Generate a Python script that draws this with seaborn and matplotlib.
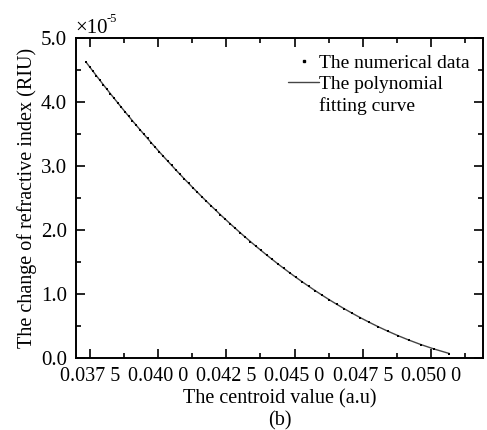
import matplotlib
matplotlib.use("Agg")
import matplotlib.pyplot as plt
from matplotlib.lines import Line2D
from matplotlib.ticker import MultipleLocator, FixedLocator, FixedFormatter
import seaborn as sns
import pandas as pd

# centroid value (a.u) of the numerical data
centroid = [
    0.037359, 0.037483, 0.037608, 0.037734, 0.037860, 0.037988, 0.038117, 0.038247,
    0.038378, 0.038510, 0.038643, 0.038777, 0.038913, 0.039049, 0.039187, 0.039327,
    0.039467, 0.039609, 0.039752, 0.039897, 0.040043, 0.040191, 0.040341, 0.040492,
    0.040644, 0.040799, 0.040955, 0.041113, 0.041273, 0.041436, 0.041600, 0.041766,
    0.041935, 0.042106, 0.042279, 0.042456, 0.042634, 0.042816, 0.043001, 0.043188,
    0.043379, 0.043574, 0.043772, 0.043974, 0.044180, 0.044390, 0.044605, 0.044826,
    0.045051, 0.045282, 0.045520, 0.045764, 0.046015, 0.046274, 0.046543, 0.046821,
    0.047111, 0.047413, 0.047729, 0.048061, 0.048413, 0.048789, 0.049192, 0.049632,
    0.050120, 0.050676,
]
# change of refractive index, in units of 1e-5 RIU
delta_n = [
    4.62, 4.55, 4.48, 4.41, 4.34, 4.27, 4.20, 4.13,
    4.06, 3.99, 3.92, 3.85, 3.78, 3.71, 3.64, 3.57,
    3.50, 3.43, 3.36, 3.29, 3.22, 3.15, 3.08, 3.01,
    2.94, 2.87, 2.80, 2.73, 2.66, 2.59, 2.52, 2.45,
    2.38, 2.31, 2.24, 2.17, 2.10, 2.03, 1.96, 1.89,
    1.82, 1.75, 1.68, 1.61, 1.54, 1.47, 1.40, 1.33,
    1.26, 1.19, 1.12, 1.05, 0.98, 0.91, 0.84, 0.77,
    0.70, 0.63, 0.56, 0.49, 0.42, 0.35, 0.28, 0.21,
    0.14, 0.07,
]
x_ticks = [0.0375, 0.0400, 0.0425, 0.0450, 0.0475, 0.0500]
x_tick_labels = ["0.037 5", "0.040 0", "0.042 5", "0.045 0", "0.047 5", "0.050 0"]
y_ticks = [0.0, 1.0, 2.0, 3.0, 4.0, 5.0]
y_tick_labels = ["0.0", "1.0", "2.0", "3.0", "4.0", "5.0"]

sns.set_theme(style="white")
plt.rcParams["font.family"] = ["Liberation Serif", "DejaVu Serif"]
plt.rcParams["mathtext.fontset"] = "stix"

df = pd.DataFrame({"x": centroid, "y": delta_n})

fig = plt.figure(figsize=(4.87, 4.30), dpi=100)
ax = fig.add_axes([76 / 487, 72 / 430, 407 / 487, 320 / 430])

sns.lineplot(data=df, x="x", y="y", ax=ax, color="#454545", linewidth=1.0,
             legend=False, estimator=None, sort=False)
sns.scatterplot(data=df, x="x", y="y", ax=ax, color="black", marker="s", s=3.5,
                linewidth=0, legend=False, zorder=3)

ax.set_xlim(0.036985, 0.05191)
ax.set_ylim(0.0, 5.0)

ax.xaxis.set_major_locator(FixedLocator(x_ticks))
ax.xaxis.set_major_formatter(FixedFormatter(x_tick_labels))
ax.xaxis.set_minor_locator(MultipleLocator(0.00125))
ax.yaxis.set_major_locator(FixedLocator(y_ticks))
ax.yaxis.set_major_formatter(FixedFormatter(y_tick_labels))
ax.yaxis.set_minor_locator(MultipleLocator(0.5))

ax.tick_params(which="both", direction="in", top=True, right=True,
               bottom=True, left=True, colors="black", width=1.2)
ax.tick_params(axis="x", which="major", length=6.5, pad=6.5, labelsize=14.5)
ax.tick_params(axis="y", which="major", length=6.5, pad=6.5, labelsize=15)
ax.tick_params(which="minor", length=3.5)
for s in ax.spines.values():
    s.set_color("black")
    s.set_linewidth(1.4)

ax.set_xlabel("The centroid value (a.u)\n(b)", fontsize=14.5, labelpad=2,
              linespacing=1.25, color="black")
ax.set_ylabel("The change of refractive index (RIU)", fontsize=14.5,
              labelpad=3, color="black")

fig.text(75 / 487, 1 - 33 / 430, "×10", fontsize=15, ha="left",
         va="baseline", color="black")
fig.text(107 / 487, 1 - 22 / 430, "-5", fontsize=9, ha="left",
         va="baseline", color="black")

handles = [
    Line2D([], [], linestyle="none", marker="s", markersize=1.8,
           color="black"),
    Line2D([], [], color="#454545", linewidth=1.0),
    Line2D([], [], linestyle="none"),
]
labels = ["The numerical data", "The polynomial", "fitting curve"]
leg = ax.legend(handles, labels, loc="upper left",
                bbox_to_anchor=((288 - 76) / 407, 0.95),
                frameon=False, fontsize=14, borderpad=0, borderaxespad=0,
                handlelength=1.6, handletextpad=0.0, labelspacing=0.2)
for t in leg.get_texts():
    t.set_color("black")

fig.savefig("out.png", dpi=100)
